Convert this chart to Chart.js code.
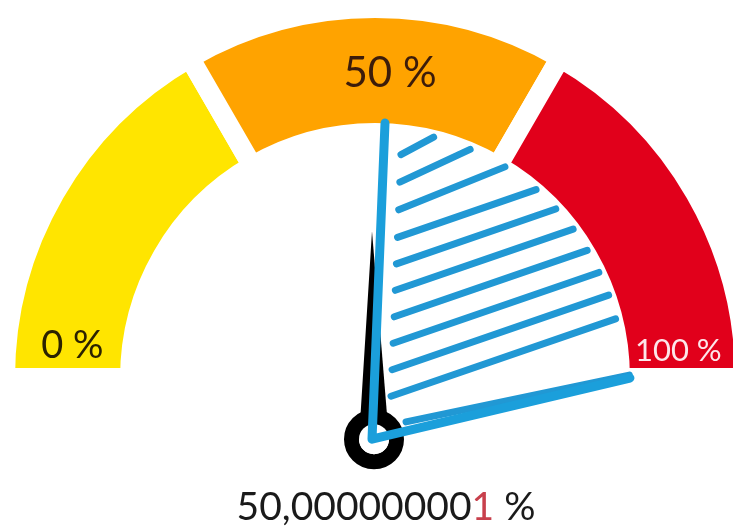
<!DOCTYPE html>
<html>
<head>
<meta charset="utf-8">
<script src="https://cdn.jsdelivr.net/npm/chart.js@4.4.1/dist/chart.umd.min.js"></script>
<style>
  html, body { margin: 0; padding: 0; background: #fff; }
  #wrap { width: 733px; height: 530px; }
</style>
</head>
<body>
<div id="wrap"><canvas id="gauge"></canvas></div>
<script>
// gauge bands (three equal zones) and their labels
var bandLabels = ['0 %', '50 %', '100 %'];
var bandValues = [33.3, 33.4, 33.3];
var tickValues = [0, 50, 100];
var gaugeMax = 100;
var needleValue = 50.000000001;

var bandColors = ['#ffe500', '#ffa300', '#e1001b'];
var labelColors = ['#2b2200', '#3c1c0a', '#fde6ea'];
var labelFonts = ['38px Lato', '42px Lato', '31px Lato'];
var blue = '#1b9fdb';
var hatchBlue = '#2198d4';
var GAP = 20;

function valueAngle(v) {
  return Math.PI - v / gaugeMax * Math.PI;
}

var gaugeDecor = {
  id: 'gaugeDecor',
  afterDatasetsDraw: function(chart) {
    var ctx = chart.ctx;
    var arc = chart.getDatasetMeta(0).data[0];
    var cx = arc.x, cy = arc.y;
    var rOut = arc.outerRadius - GAP / 2;
    var rIn = arc.innerRadius + GAP / 2;
    var pt = function(v, r, ox, oy) {
      var a = valueAngle(v);
      return { x: ox + r * Math.cos(a), y: oy - r * Math.sin(a) };
    };

    // band labels
    ctx.save();
    ctx.textAlign = 'center';
    ctx.textBaseline = 'middle';
    var rMid = (rOut + rIn) / 2 - 3;
    tickValues.forEach(function(v, i) {
      var inset = v === 0 ? 3.4 : (v === gaugeMax ? -2.8 : 0);
      var p = pt(v + inset, rMid, cx, cy);
      if (v !== 0 && v !== gaugeMax) { p.x += 15; }
      ctx.font = labelFonts[i];
      ctx.fillStyle = labelColors[i];
      ctx.fillText(bandLabels[i], p.x, p.y);
    });
    ctx.restore();

    // needle pivot sits a bit below the arc centre
    var P = { x: cx - 3, y: cy + 0.17 * rOut };
    var ang = valueAngle(needleValue);
    var dir = { x: Math.cos(ang), y: -Math.sin(ang) };
    var perp = { x: -dir.y, y: dir.x };
    var len = 208;

    ctx.save();
    ctx.fillStyle = '#000';
    ctx.beginPath();
    ctx.moveTo(P.x + dir.x * len, P.y + dir.y * len);
    ctx.lineTo(P.x + 2 + perp.x * 15, P.y + perp.y * 15);
    ctx.lineTo(P.x + 2 - perp.x * 15, P.y - perp.y * 15);
    ctx.closePath();
    ctx.fill();
    ctx.beginPath();
    ctx.arc(P.x + 2, P.y, 22.5, 0, Math.PI * 2);
    ctx.lineWidth = 15;
    ctx.strokeStyle = '#000';
    ctx.stroke();
    ctx.beginPath();
    ctx.arc(P.x + 2, P.y, 15, 0, Math.PI * 2);
    ctx.fillStyle = '#fff';
    ctx.fill();
    ctx.restore();

    // hatched wedge from needle value to gauge max
    var A = pt(needleValue, rIn, cx, cy);
    A.x += 10;
    var B = pt(gaugeMax, rIn, cx, cy);
    var L = { x: A.x - P.x, y: A.y - P.y };
    var Bv = { x: B.x - P.x, y: B.y - P.y };
    var lenL = Math.hypot(L.x, L.y), lenB = Math.hypot(Bv.x, Bv.y);
    var uL = { x: L.x / lenL, y: L.y / lenL };
    function inside(q) {
      var c1 = (L.x * (q.y - P.y) - L.y * (q.x - P.x)) / lenL;
      var c2 = -(Bv.x * (q.y - P.y) - Bv.y * (q.x - P.x)) / lenB;
      var d = Math.hypot(q.x - cx, q.y - cy);
      return c1 > 17 && c2 > 12 && d < rIn - 7;
    }
    ctx.save();
    ctx.strokeStyle = hatchBlue;
    ctx.lineWidth = 7;
    ctx.lineCap = 'round';
    for (var i = 0; i < 12; i++) {
      var dist = 37 + i * 26.5;
      var al = (i < 7 ? 19 : 19 + (i - 6) * 3) * Math.PI / 180;
      var d = { x: Math.cos(al), y: -Math.sin(al) };
      var base = { x: P.x + uL.x * dist, y: P.y + uL.y * dist };
      var t0 = null, t1 = null;
      for (var t = -40; t < 500; t += 0.5) {
        var q = { x: base.x + d.x * t, y: base.y + d.y * t };
        if (inside(q)) {
          if (t0 === null) t0 = t;
          t1 = t;
        } else if (t0 !== null) {
          break;
        }
      }
      if (t0 !== null && t1 - t0 > 6) {
        ctx.beginPath();
        ctx.moveTo(base.x + d.x * t0, base.y + d.y * t0);
        ctx.lineTo(base.x + d.x * t1, base.y + d.y * t1);
        ctx.stroke();
      }
    }
    // second stroke hugging the lower edge
    var nb = { x: Bv.y / lenB, y: -Bv.x / lenB };
    ctx.beginPath();
    ctx.moveTo(P.x + Bv.x * 0.14 + nb.x * 9, P.y + Bv.y * 0.14 + nb.y * 9);
    ctx.lineTo(B.x + nb.x * 3, B.y + nb.y * 3);
    ctx.stroke();

    ctx.strokeStyle = blue;
    ctx.lineWidth = 9;
    ctx.lineJoin = 'round';
    ctx.beginPath();
    ctx.moveTo(A.x, A.y);
    ctx.lineTo(P.x, P.y);
    ctx.lineTo(B.x, B.y);
    ctx.stroke();
    ctx.restore();

    // value readout, last digit highlighted
    var txt = needleValue.toFixed(9).replace('.', ',');
    var head = txt.slice(0, -1), last = txt.slice(-1), tail = ' %';
    ctx.save();
    ctx.font = '39px Lato';
    ctx.textBaseline = 'alphabetic';
    ctx.textAlign = 'left';
    var wH = ctx.measureText(head).width;
    var wL = ctx.measureText(last).width;
    var wT = ctx.measureText(tail).width;
    var x = cx + 11 - (wH + wL + wT) / 2;
    var y = 520;
    ctx.fillStyle = '#1a1a1a';
    ctx.fillText(head, x, y);
    ctx.fillStyle = '#c8404c';
    ctx.fillText(last, x + wH, y);
    ctx.fillStyle = '#1a1a1a';
    ctx.fillText(tail, x + wH + wL, y);
    ctx.restore();
  }
};

var ctx = document.getElementById('gauge').getContext('2d');
new Chart(ctx, {
  type: 'doughnut',
  data: {
    labels: bandLabels,
    datasets: [{
      data: bandValues,
      backgroundColor: bandColors,
      borderColor: '#ffffff',
      borderWidth: GAP,
      clip: false
    }]
  },
  options: {
    responsive: true,
    maintainAspectRatio: false,
    animation: false,
    events: [],
    rotation: -90,
    circumference: 180,
    radius: 370,
    cutout: '66.2%',
    layout: { padding: { left: 17, right: 0, top: 0, bottom: 144 } },
    plugins: {
      legend: { display: false },
      tooltip: { enabled: false }
    }
  },
  plugins: [gaugeDecor]
});
</script>
</body>
</html>
